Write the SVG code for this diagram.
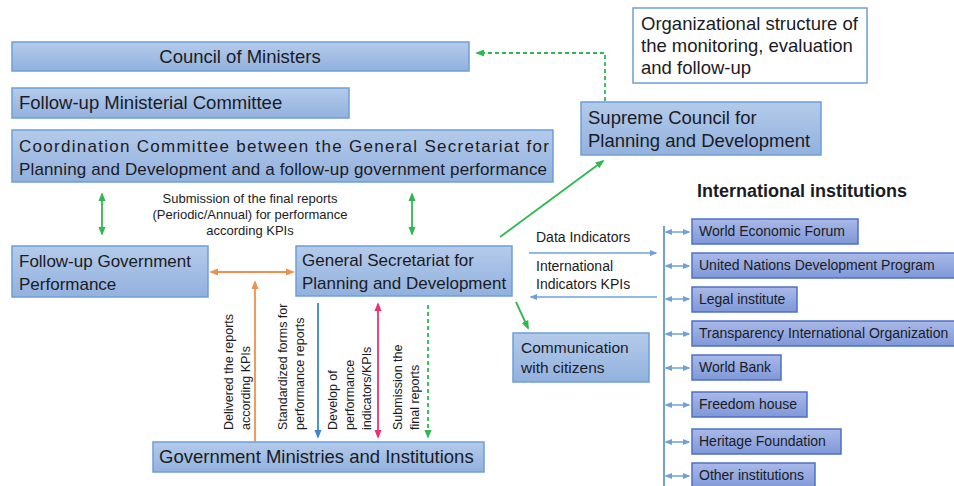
<svg xmlns="http://www.w3.org/2000/svg" width="954" height="486" viewBox="0 0 954 486">
<defs>
<linearGradient id="gBox" x1="0" y1="0" x2="0" y2="1">
<stop offset="0" stop-color="#b4cbea"/>
<stop offset="1" stop-color="#92b1de"/>
</linearGradient>
<linearGradient id="gInst" x1="0" y1="0" x2="0" y2="1">
<stop offset="0" stop-color="#a9b9e8"/>
<stop offset="1" stop-color="#8098d8"/>
</linearGradient>
<marker id="aGreen" viewBox="0 0 10 10" refX="8" refY="5" markerWidth="5" markerHeight="5" orient="auto-start-reverse">
<path d="M0,1 L10,5 L0,9 z" fill="#2eb84f"/>
</marker>
<marker id="aOrange" viewBox="0 0 10 10" refX="8" refY="5" markerWidth="5" markerHeight="5" orient="auto-start-reverse">
<path d="M0,1 L10,5 L0,9 z" fill="#f0904a"/>
</marker>
<marker id="aBlue" viewBox="0 0 10 10" refX="8" refY="5" markerWidth="5" markerHeight="5" orient="auto-start-reverse">
<path d="M0,1 L10,5 L0,9 z" fill="#3a86cf"/>
</marker>
<marker id="aPink" viewBox="0 0 10 10" refX="8" refY="5" markerWidth="5" markerHeight="5" orient="auto-start-reverse">
<path d="M0,1 L10,5 L0,9 z" fill="#f0306e"/>
</marker>
<marker id="aLb" viewBox="0 0 10 10" refX="8" refY="5" markerWidth="5" markerHeight="5" orient="auto-start-reverse">
<path d="M0,1 L10,5 L0,9 z" fill="#6fa0d8"/>
</marker>
</defs>
<style>
.box{fill:url(#gBox);stroke:#6e9ed8;stroke-width:1.5}
.inst{fill:url(#gInst);stroke:#4d70c6;stroke-width:1.5}
.t{font-family:"Liberation Sans",Arial,sans-serif;fill:#1b1b24}
.b18{font-size:18.5px}
.b17{font-size:17px}
.b15{font-size:15.5px}
.i{font-size:14px}
.s{font-size:13px}
.v{font-size:12.5px}
.g{stroke:#2eb84f;stroke-width:1.8;fill:none}
</style>
<rect width="954" height="486" fill="#ffffff"/>

<g id="council">
<rect class="box" x="12" y="42" width="457" height="29"/>
<text class="t b18" x="240" y="63" text-anchor="middle">Council of Ministers</text>
</g>
<g id="ministerial">
<rect class="box" x="12" y="88" width="337" height="30"/>
<text class="t b18" x="19" y="109">Follow-up Ministerial Committee</text>
</g>
<g id="coordination">
<rect class="box" x="12" y="130" width="541" height="52"/>
<text class="t b17" x="19" y="152" textLength="530" lengthAdjust="spacing">Coordination Committee between the General Secretariat for</text>
<text class="t b17" x="19" y="175" textLength="528" lengthAdjust="spacing">Planning and Development and a follow-up government performance</text>
</g>
<g id="followup">
<rect class="box" x="12" y="246" width="196" height="51"/>
<text class="t b17" x="19" y="267">Follow-up Government</text>
<text class="t b17" x="19" y="290">Performance</text>
</g>
<g id="secretariat">
<rect class="box" x="296" y="246" width="216" height="50"/>
<text class="t b17" x="302" y="266">General Secretariat for</text>
<text class="t b17" x="302" y="289">Planning and Development</text>
</g>
<g id="orgtitle">
<rect x="633" y="8" width="234" height="75" fill="#ffffff" stroke="#6e9ed8" stroke-width="1.5"/>
<text class="t b18" x="641" y="30">Organizational structure of</text>
<text class="t b18" x="641" y="52">the monitoring, evaluation</text>
<text class="t b18" x="641" y="74">and follow-up</text>
</g>
<g id="supreme">
<rect class="box" x="581" y="102" width="240" height="53"/>
<text class="t b18" x="588" y="124">Supreme Council for</text>
<text class="t b18" x="588" y="147">Planning and Development</text>
</g>
<g id="communication">
<rect class="box" x="513" y="333" width="136" height="49"/>
<text class="t b15" x="521" y="353">Communication</text>
<text class="t b15" x="521" y="373">with citizens</text>
</g>
<g id="ministries">
<rect class="box" x="153" y="442" width="331" height="30"/>
<text class="t b18" x="159" y="463">Government Ministries and Institutions</text>
</g>
<g id="intl-title">
<text class="t" x="697" y="197" font-size="18" font-weight="bold">International institutions</text>
</g>
<g id="wef">
<rect class="inst" x="692" y="219" width="166" height="25"/>
<text class="t i" x="699" y="236">World Economic Forum</text>
</g>
<g id="undp">
<rect class="inst" x="692" y="253" width="264" height="25"/>
<text class="t i" x="699" y="270">United Nations Development Program</text>
</g>
<g id="legal">
<rect class="inst" x="692" y="287" width="105" height="25"/>
<text class="t i" x="699" y="304">Legal institute</text>
</g>
<g id="transparency">
<rect class="inst" x="692" y="321" width="264" height="25"/>
<text class="t i" x="699" y="338">Transparency International Organization</text>
</g>
<g id="worldbank">
<rect class="inst" x="692" y="355" width="89" height="25"/>
<text class="t i" x="699" y="372">World Bank</text>
</g>
<g id="freedom">
<rect class="inst" x="692" y="392" width="115" height="25"/>
<text class="t i" x="699" y="409">Freedom house</text>
</g>
<g id="heritage">
<rect class="inst" x="692" y="429" width="149" height="25"/>
<text class="t i" x="699" y="446">Heritage Foundation</text>
</g>
<g id="other">
<rect class="inst" x="692" y="463" width="123" height="26"/>
<text class="t i" x="699" y="480">Other institutions</text>
</g>

<g id="connectors">
<path class="g" d="M605,101 V53 H477" stroke-dasharray="4,3" marker-end="url(#aGreen)"/>
<path class="g" d="M102,194 V234" marker-start="url(#aGreen)" marker-end="url(#aGreen)"/>
<path class="g" d="M412,194 V234" marker-start="url(#aGreen)" marker-end="url(#aGreen)"/>
<path class="g" d="M500,237 L603,161" marker-end="url(#aGreen)"/>
<path class="g" d="M516,302 L528,328" marker-end="url(#aGreen)"/>
<path d="M211,272 H293" stroke="#f0904a" stroke-width="1.8" marker-start="url(#aOrange)" marker-end="url(#aOrange)"/>
<path d="M255,442 V282" stroke="#f0904a" stroke-width="1.8" marker-end="url(#aOrange)"/>
<path d="M318,303 V437" stroke="#3a86cf" stroke-width="1.8" marker-end="url(#aBlue)"/>
<path d="M378,304 V437" stroke="#f0306e" stroke-width="1.8" marker-start="url(#aPink)" marker-end="url(#aPink)"/>
<path class="g" d="M428,305 V437" stroke-dasharray="4,3" marker-end="url(#aGreen)"/>
<path d="M529,253 H656" stroke="#6fa0d8" stroke-width="1.5" marker-end="url(#aLb)"/>
<path d="M657,297 H531" stroke="#6fa0d8" stroke-width="1.5" marker-end="url(#aLb)"/>
<path d="M664,226 V486" stroke="#6fa0d8" stroke-width="2"/>
<g stroke="#6fa0d8" stroke-width="1.5" fill="none">
<path d="M666,232 H689" marker-start="url(#aLb)" marker-end="url(#aLb)"/>
<path d="M666,266 H689" marker-start="url(#aLb)" marker-end="url(#aLb)"/>
<path d="M666,299 H689" marker-start="url(#aLb)" marker-end="url(#aLb)"/>
<path d="M666,334 H689" marker-start="url(#aLb)" marker-end="url(#aLb)"/>
<path d="M666,368 H689" marker-start="url(#aLb)" marker-end="url(#aLb)"/>
<path d="M666,405 H689" marker-start="url(#aLb)" marker-end="url(#aLb)"/>
<path d="M666,442 H689" marker-start="url(#aLb)" marker-end="url(#aLb)"/>
<path d="M666,476 H689" marker-start="url(#aLb)" marker-end="url(#aLb)"/>
</g>
<g class="t s" text-anchor="middle">
<text x="250" y="203">Submission of the final reports</text>
<text x="250" y="219">(Periodic/Annual) for performance</text>
<text x="250" y="235">according KPIs</text>
</g>
<g class="t" font-size="14">
<text x="536" y="242">Data Indicators</text>
<text x="536" y="271">International</text>
<text x="536" y="289">Indicators KPIs</text>
</g>
<g class="t v">
<text transform="translate(233,430) rotate(-90)">Delivered the reports</text>
<text transform="translate(250,430) rotate(-90)">according KPIs</text>
<text transform="translate(287,430) rotate(-90)">Standardized forms for</text>
<text transform="translate(304,430) rotate(-90)">performance reports</text>
<text transform="translate(337,430) rotate(-90)">Develop of</text>
<text transform="translate(354,430) rotate(-90)">performance</text>
<text transform="translate(371,430) rotate(-90)">indicators/KPIs</text>
<text transform="translate(402,430) rotate(-90)">Submission the</text>
<text transform="translate(419,430) rotate(-90)">final reports</text>
</g>
</g>
</svg>
